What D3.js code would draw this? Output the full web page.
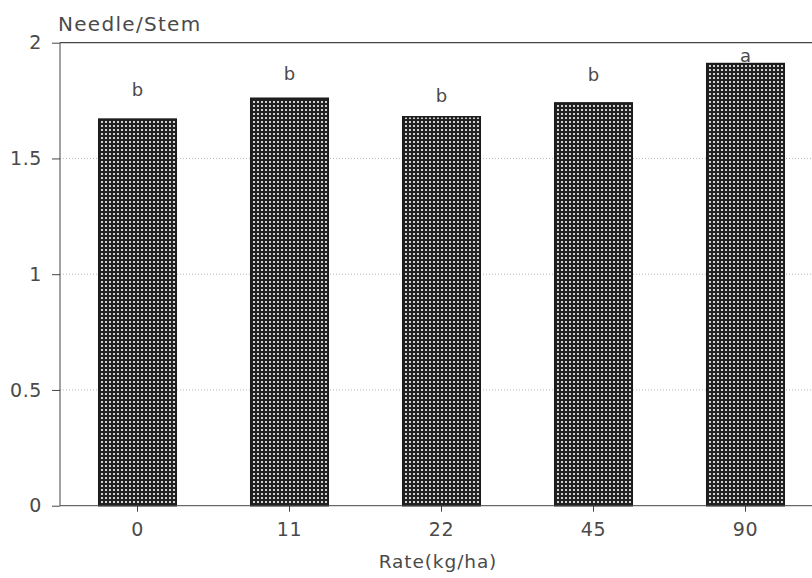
<!DOCTYPE html>
<html>
<head>
<meta charset="utf-8">
<script src="https://cdn.jsdelivr.net/npm/d3@7"></script>
<style>
  html, body { margin: 0; padding: 0; background: #fff; }
  svg { display: block; }
  text { font-family: "DejaVu Sans", sans-serif; fill: #4a4a4a; }
</style>
</head>
<body>
<svg id="chart" width="812" height="578"></svg>
<script>
// ---- data ----
const categories = ["0", "11", "22", "45", "90"];
const values = [1.67, 1.76, 1.68, 1.74, 1.91];
const letters = ["b", "b", "b", "b", "a"];
const letterValues = [1.77, 1.84, 1.745, 1.835, 1.917];
const yTicks = [0, 0.5, 1, 1.5, 2];
const yTickLabels = ["0", "0.5", "1", "1.5", "2"];
const yTitle = "Needle/Stem";
const xTitle = "Rate(kg/ha)";

// ---- layout ----
const svg = d3.select("#chart");
const mLeft = 60, mTop = 42.7, mBottom = 505.7;
const textColor = "#505050";

const x = d3.scaleBand().domain(categories).range([61.5, 821.5])
  .paddingInner(0.49).paddingOuter(0.245);
const y = d3.scaleLinear().domain([0, 2]).range([mBottom, mTop]);

// pattern
const defs = svg.append("defs");
const pat = defs.append("pattern").attr("id", "hatch")
  .attr("patternUnits", "userSpaceOnUse").attr("width", 4).attr("height", 4);
pat.append("rect").attr("width", 4).attr("height", 4).attr("fill", "#222");
pat.append("rect").attr("x", 1).attr("y", 1).attr("width", 2).attr("height", 2).attr("fill", "#d0d0d0");

// gridlines (dotted) for interior ticks
svg.append("g").selectAll("line").data(yTicks.filter(d => d > 0 && d < 2)).join("line")
  .attr("x1", mLeft).attr("x2", 812)
  .attr("y1", d => y(d)).attr("y2", d => y(d))
  .attr("stroke", "#b8b8b8").attr("stroke-width", 1).attr("stroke-dasharray", "1,2");

// top frame line
svg.append("line").attr("x1", mLeft).attr("x2", 812)
  .attr("y1", y(2)).attr("y2", y(2)).attr("stroke", "#444").attr("stroke-width", 1.2);

// bars
svg.append("g").selectAll("rect").data(values).join("rect")
  .attr("x", (d, i) => x(categories[i]))
  .attr("width", x.bandwidth())
  .attr("y", d => y(d))
  .attr("height", d => y(0) - y(d))
  .attr("fill", "url(#hatch)")
  .attr("stroke", "#1a1a1a").attr("stroke-width", 1.5);

// y axis
const yAxis = d3.axisLeft(y).tickValues(yTicks)
  .tickFormat((d, i) => yTickLabels[i]).tickSize(8).tickPadding(10);
const gy = svg.append("g").attr("transform", `translate(${mLeft},0)`).call(yAxis);
gy.select(".domain").attr("stroke", "#444").attr("d", `M0,${mBottom}V${mTop}`);
gy.selectAll(".tick line").attr("stroke", "#444");
gy.selectAll(".tick text").attr("font-size", 19).attr("letter-spacing", 0.6)
  .attr("font-family", "DejaVu Sans").attr("fill", textColor);

// x axis
const xAxis = d3.axisBottom(x).tickSize(6).tickPadding(11);
const gx = svg.append("g").attr("transform", `translate(0,${mBottom})`).call(xAxis);
gx.select(".domain").attr("stroke", "#444").attr("d", `M${mLeft},0H812`);
gx.selectAll(".tick line").attr("stroke", "#444");
gx.selectAll(".tick text").attr("font-size", 19).attr("letter-spacing", 0.6)
  .attr("font-family", "DejaVu Sans").attr("fill", textColor);

// significance letters
svg.append("g").selectAll("text").data(letters).join("text")
  .attr("x", (d, i) => x(categories[i]) + x.bandwidth() / 2)
  .attr("y", (d, i) => y(letterValues[i]))
  .attr("text-anchor", "middle").attr("font-size", 18).attr("fill", textColor)
  .text(d => d);

// titles
svg.append("text").attr("x", 58).attr("y", 30.5).attr("fill", textColor)
  .attr("font-size", 20).attr("letter-spacing", 1.3).text(yTitle);
svg.append("text").attr("x", 438).attr("y", 568).attr("text-anchor", "middle").attr("fill", textColor)
  .attr("font-size", 18.5).attr("letter-spacing", 0.9).text(xTitle);
</script>
</body>
</html>
